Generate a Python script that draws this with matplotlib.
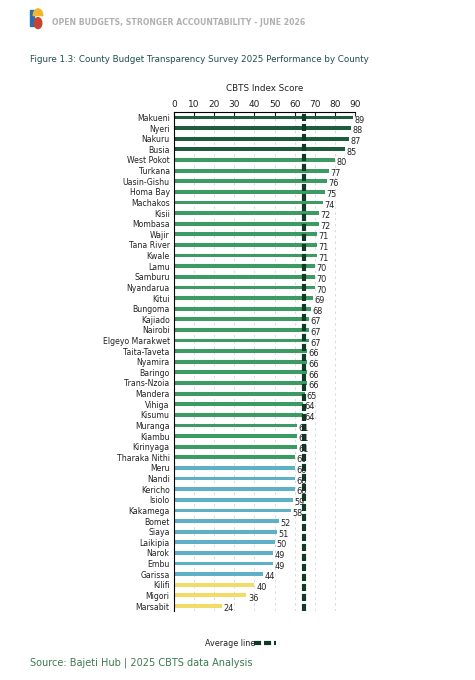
import matplotlib.pyplot as plt
import matplotlib.patches as mpatches
import numpy as np

counties = ["Makueni", "Nyeri", "Nakuru", "Busia", "West Pokot", "Turkana", "Uasin-Gishu",
            "Homa Bay", "Machakos", "Kisii", "Mombasa", "Wajir", "Tana River", "Kwale", "Lamu",
            "Samburu", "Nyandarua", "Kitui", "Bungoma", "Kajiado", "Nairobi", "Elgeyo Marakwet",
            "Taita-Taveta", "Nyamira", "Baringo", "Trans-Nzoia", "Mandera", "Vihiga", "Kisumu",
            "Muranga", "Kiambu", "Kirinyaga", "Tharaka Nithi", "Meru", "Nandi", "Kericho",
            "Isiolo", "Kakamega", "Bomet", "Siaya", "Laikipia", "Narok", "Embu", "Garissa",
            "Kilifi", "Migori", "Marsabit"]
scores = [89, 88, 87, 85, 80, 77, 76, 75, 74, 72, 72, 71, 71, 71, 70, 70, 70, 69, 68, 67, 67,
          67, 66, 66, 66, 66, 65, 64, 64, 61, 61, 61, 60, 60, 60, 60, 59, 58, 52, 51, 50, 49,
          49, 44, 40, 36, 24]
average = 64.4

def bar_colour(v, i):
    if i < 4:
        return "#1d5c3d"
    if i <= 32:
        return "#3c9a63"
    if v > 40:
        return "#5fb0c6"
    return "#f0dc66"

fig = plt.figure(figsize=(4.75, 6.8), dpi=100)

# header
fig.add_artist(mpatches.Rectangle((0.064, 0.962), 0.007, 0.024, color="#2a6db0",
                                  transform=fig.transFigure))
fig.add_artist(mpatches.Wedge((0.080, 0.977), 0.010, 0, 180, color="#f2b530",
                              transform=fig.transFigure))
fig.add_artist(mpatches.Circle((0.080, 0.966), 0.008, color="#c8432f",
                               transform=fig.transFigure))
fig.text(0.11, 0.967, "OPEN BUDGETS, STRONGER ACCOUNTABILITY - JUNE 2026", fontsize=5.6,
         color="#b0b0b0", fontweight="bold", va="center")
fig.text(0.063, 0.912, "Figure 1.3: County Budget Transparency Survey 2025 Performance by County",
         fontsize=6.3, color="#1f4f4a", va="center")

ax = fig.add_axes([0.366, 0.101, 0.382, 0.734])
y = np.arange(len(counties))
colours = [bar_colour(v, i) for i, v in enumerate(scores)]
ax.barh(y, scores, height=0.36, color=colours, zorder=2)
for yi, v in zip(y, scores):
    ax.text(v + 0.8, yi + 0.25, str(v), fontsize=5.9, color="#222222", va="center", zorder=4)

dash = (0, (1.7, 0.7))
ax.axvline(average, color="#0f3a24", lw=3, ls=dash, zorder=3)

ax.set_xlim(0, 90)
ax.set_ylim(len(counties) - 0.5, -0.5)
ax.set_xticks(range(0, 91, 10))
ax.xaxis.tick_top()
ax.tick_params(axis="x", direction="in", length=3, width=0.8, labelsize=6.5, pad=2,
               colors="#222222")
ax.set_yticks(y)
ax.set_yticklabels(counties, fontsize=5.6, color="#222222")
ax.tick_params(axis="y", length=0, pad=3)
ax.grid(axis="x", color="#d6d6d6", lw=0.6, ls=(0, (3, 4)), zorder=0)
for s in ["right", "bottom"]:
    ax.spines[s].set_visible(False)
ax.spines["top"].set_linewidth(0.8)
ax.spines["left"].set_linewidth(0.8)
ax.set_title("CBTS Index Score", fontsize=6.3, pad=15, color="#222222")

fig.text(0.432, 0.054, "Average line", fontsize=5.8, color="#222222", va="center")
fig.add_artist(plt.Line2D([0.535, 0.581], [0.054, 0.054], color="#0f3a24", lw=3,
                          ls=dash, transform=fig.transFigure))
fig.text(0.063, 0.025, "Source: Bajeti Hub | 2025 CBTS data Analysis", fontsize=7,
         color="#3c7a4e", va="center")

fig.savefig("out.png", dpi=100, facecolor="white")
